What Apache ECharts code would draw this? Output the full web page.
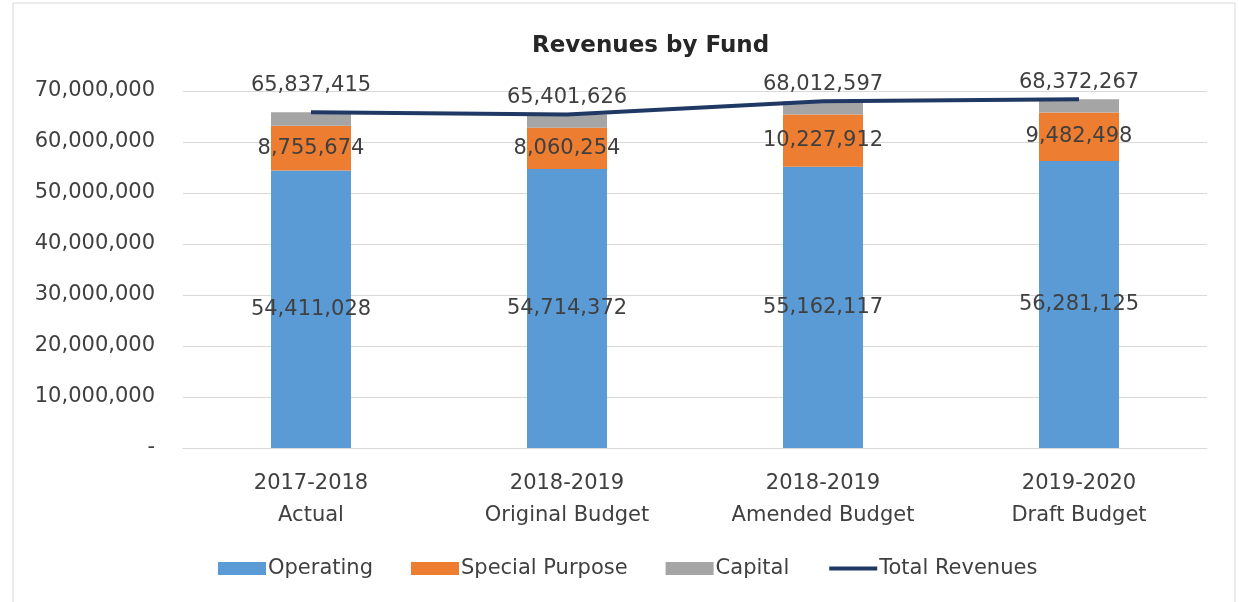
<!DOCTYPE html>
<html>
<head>
<meta charset="utf-8">
<title>Revenues by Fund</title>
<script src="https://cdn.jsdelivr.net/npm/echarts@6/dist/echarts.min.js"></script>
<style>
  html, body { margin: 0; padding: 0; background: #fff; }
  #chart { width: 1239px; height: 602px; }
</style>
</head>
<body>
<div id="chart"></div>
<script>
// values
const categories = ['2017-2018\nActual', '2018-2019\nOriginal Budget', '2018-2019\nAmended Budget', '2019-2020\nDraft Budget'];
const operating = [54411028, 54714372, 55162117, 56281125];
const specialPurpose = [8755674, 8060254, 10227912, 9482498];
const capital = [2670713, 2627000, 2622568, 2608644];
const totalRevenues = [65837415, 65401626, 68012597, 68372267];
const yTicks = [0, 10000000, 20000000, 30000000, 40000000, 50000000, 60000000, 70000000];

const FONT = 'DejaVu Sans';
const TEXT = '#404040';

function fmt(v) {
    if (v === 0) return '-';
    return v.toLocaleString('en-US');
}

document.addEventListener('DOMContentLoaded', () => {
    const myChart = echarts.init(document.getElementById('chart'));

    const labelStyle = {
        show: true,
        position: 'inside',
        color: TEXT,
        fontFamily: FONT,
        fontSize: 21,
        formatter: p => fmt(p.value)
    };

    const option = {
        backgroundColor: '#fff',
        animation: false,
        graphic: [{
            type: 'rect',
            shape: { x: 13, y: 3, width: 1222, height: 640 },
            style: { fill: 'none', stroke: '#D9D9D9', lineWidth: 1 },
            silent: true
        }],
        title: {
            text: 'Revenues by Fund',
            left: 527,
            top: 30,
            textStyle: { fontFamily: FONT, fontSize: 23, fontWeight: 'bold', color: '#262626' }
        },
        grid: { left: 183, right: 32, top: 91, bottom: 154 },
        legend: {
            bottom: 18,
            left: 213,
            itemWidth: 48,
            itemHeight: 13,
            itemGap: 38,
            textStyle: { fontFamily: FONT, fontSize: 21, color: TEXT, padding: [0, 0, 0, -3] },
            data: [
                { name: 'Operating', icon: 'rect' },
                { name: 'Special Purpose', icon: 'rect' },
                { name: 'Capital', icon: 'rect' },
                { name: 'Total Revenues', itemStyle: { opacity: 0 }, lineStyle: { width: 4, color: '#1F3864' } }
            ]
        },
        xAxis: {
            type: 'category',
            data: categories,
            axisLine: { lineStyle: { color: '#D9D9D9' } },
            axisTick: { show: false },
            axisLabel: { color: TEXT, fontFamily: FONT, fontSize: 21, lineHeight: 32, margin: 20 }
        },
        yAxis: {
            type: 'value',
            min: yTicks[0],
            max: yTicks[yTicks.length - 1],
            interval: yTicks[1] - yTicks[0],
            axisLine: { show: false },
            axisTick: { show: false },
            axisLabel: { color: TEXT, fontFamily: FONT, fontSize: 21, margin: 28, formatter: fmt },
            splitLine: { lineStyle: { color: '#D9D9D9' } }
        },
        series: [{
            name: 'Operating',
            type: 'bar',
            stack: 'fund',
            barWidth: 80,
            data: operating,
            itemStyle: { color: '#5B9BD5' },
            label: labelStyle
        }, {
            name: 'Special Purpose',
            type: 'bar',
            stack: 'fund',
            data: specialPurpose,
            itemStyle: { color: '#ED7D31' },
            label: labelStyle
        }, {
            name: 'Capital',
            type: 'bar',
            stack: 'fund',
            data: capital,
            itemStyle: { color: '#A5A5A5' },
            // total labels sit above the stack
            label: {
                show: true,
                position: 'top',
                distance: 6,
                color: TEXT,
                fontFamily: FONT,
                fontSize: 21,
                formatter: p => fmt(totalRevenues[p.dataIndex])
            },
            labelLayout: p => (p.dataIndex === 0 ? { dy: -10 } : {})
        }, {
            name: 'Total Revenues',
            type: 'line',
            z: 5,
            symbol: 'none',
            data: totalRevenues,
            lineStyle: { color: '#1F3864', width: 4 },
            itemStyle: { color: '#1F3864' }
        }]
    };

    myChart.setOption(option);
});
</script>
</body>
</html>
